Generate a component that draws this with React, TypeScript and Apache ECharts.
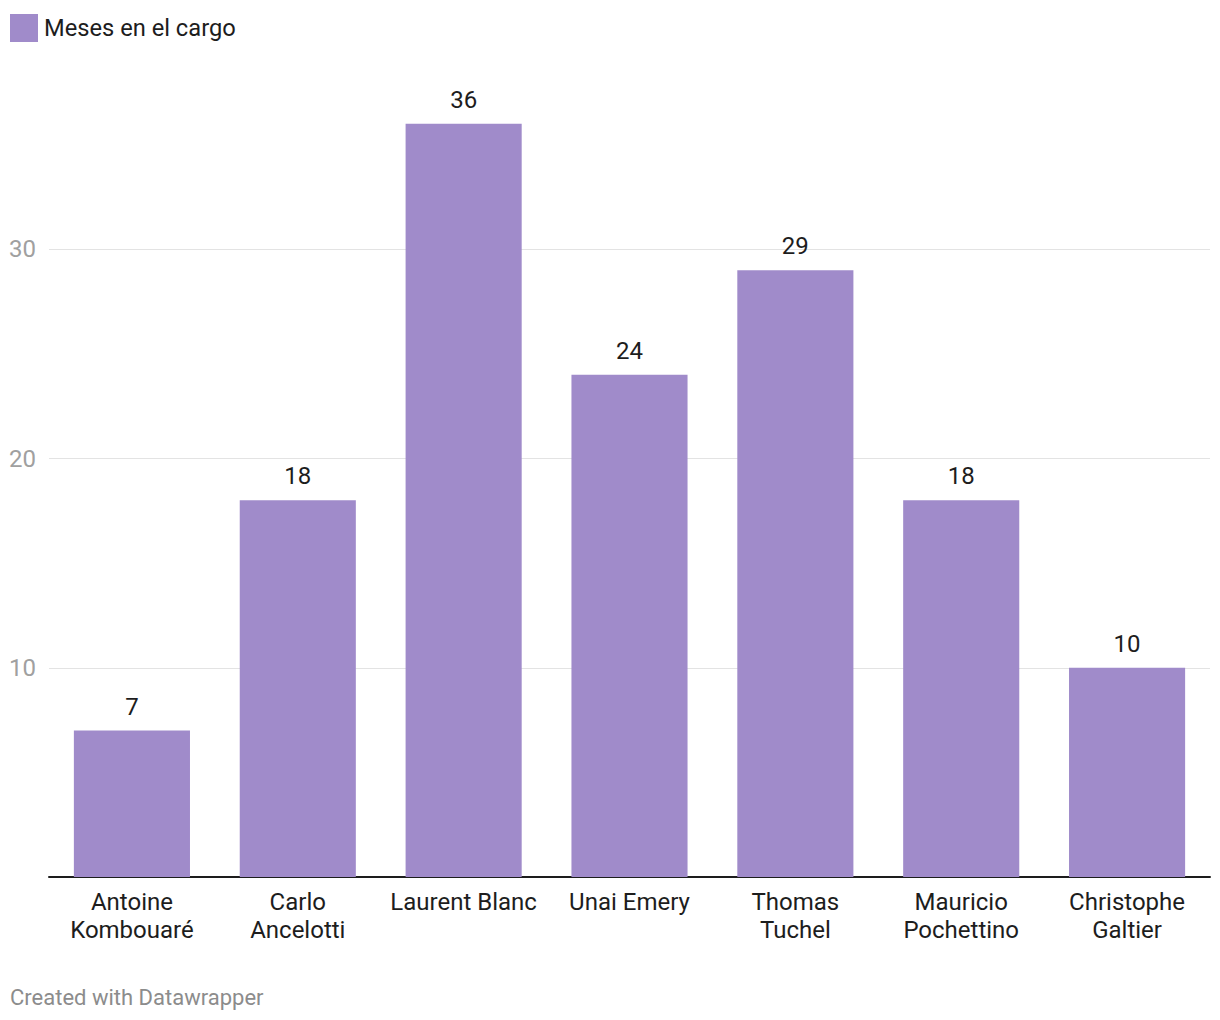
import React, { useEffect, useRef } from "react";
import * as echarts from "echarts";

const categories = [
  "Antoine\nKombouaré",
  "Carlo\nAncelotti",
  "Laurent Blanc",
  "Unai Emery",
  "Thomas\nTuchel",
  "Mauricio\nPochettino",
  "Christophe\nGaltier",
];
const values = [7, 18, 36, 24, 29, 18, 10];
const seriesName = "Meses en el cargo";
const footer = "Created with Datawrapper";

const FONT = "Roboto, 'Noto Sans', sans-serif";

export default function App() {
  const ref = useRef<HTMLDivElement>(null);
  useEffect(() => {
    if (!ref.current) return;
    const chart = echarts.init(ref.current, undefined, { renderer: "svg" });
    chart.setOption({
      animation: false,
      backgroundColor: "#ffffff",
      textStyle: { fontFamily: FONT },
      legend: {
        left: 10,
        top: 14,
        padding: 0,
        icon: "rect",
        itemWidth: 28,
        itemHeight: 28,
        itemGap: 7,
        selectedMode: false,
        textStyle: { fontSize: 23.7, color: "#1d1d1d", fontFamily: FONT, padding: [0, 0, 0, 1] },
        data: [seriesName],
      },
      title: {
        text: footer,
        left: 10,
        bottom: 12,
        padding: 0,
        textStyle: { fontSize: 22, color: "#8c8c8c", fontWeight: "normal", fontFamily: FONT },
      },
      grid: { left: 49, right: 10, top: 40, bottom: 143, containLabel: false },
      xAxis: {
        type: "category",
        data: categories,
        axisLine: { show: true, lineStyle: { color: "#1d1d1d", width: 2 } },
        axisTick: { show: false },
        axisLabel: {
          interval: 0,
          margin: 11,
          fontSize: 24,
          lineHeight: 28,
          color: "#1d1d1d",
          fontFamily: FONT,
        },
      },
      yAxis: {
        type: "value",
        min: 0,
        max: 40,
        interval: 10,
        axisLine: { show: false },
        axisTick: { show: false },
        splitLine: { show: true, showMinLine: false, showMaxLine: false, lineStyle: { color: "#e3e3e3", width: 1 } },
        axisLabel: {
          margin: 13,
          fontSize: 24,
          color: "#a0a0a0",
          fontFamily: FONT,
          showMinLabel: false,
          showMaxLabel: false,
          formatter: (v: number) => (v === 0 || v === 40 ? "" : String(v)),
        },
      },
      series: [
        {
          name: seriesName,
          type: "bar",
          data: values,
          barWidth: "70%",
          itemStyle: { color: "#a08bca" },
          label: {
            show: true,
            position: "top",
            distance: 12,
            fontSize: 24,
            color: "#1d1d1d",
            fontFamily: FONT,
          },
        },
      ],
    });
    return () => chart.dispose();
  }, []);
  return (
    <div
      ref={ref}
      style={{ position: "absolute", left: 0, top: 0, width: 1220, height: 1020 }}
    />
  );
}
